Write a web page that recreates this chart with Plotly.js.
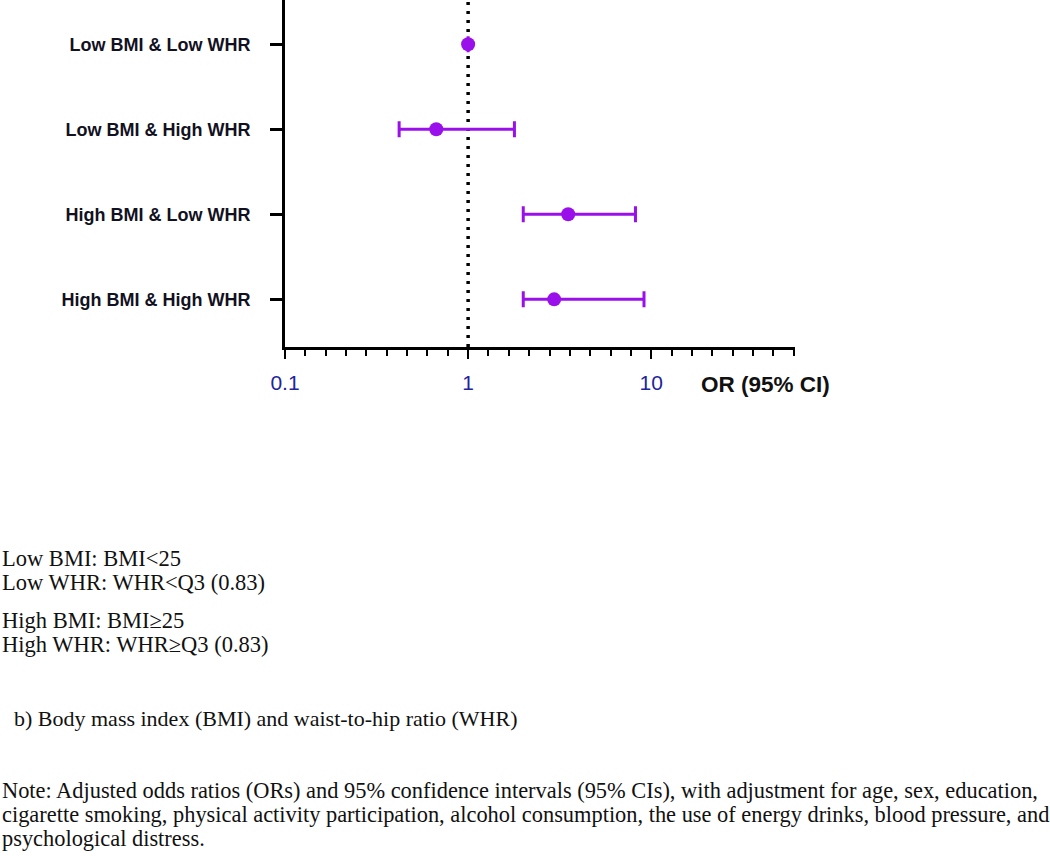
<!DOCTYPE html>
<html>
<head>
<meta charset="utf-8">
<script src="https://cdn.plot.ly/plotly-3.0.1.min.js"></script>
<style>
html,body{margin:0;padding:0;background:#fff;}
#chart{width:1050px;height:856px;}
</style>
</head>
<body>
<div id="chart"></div>
<script>
// ---- data ----
const categories = ["Low BMI & Low WHR", "Low BMI & High WHR", "High BMI & Low WHR", "High BMI & High WHR"];
const orValues = [1.0, 0.67, 3.52, 2.95];
const ciLower = [1.0, 0.42, 2.0, 2.0];
const ciUpper = [1.0, 1.79, 8.2, 9.13];
const refValue = 1;
const xTickVals = [0.1, 1, 10];
const xTickText = ["0.1", "1", "10"];
const xAxisLabel = "OR (95% CI)";
const notes = [
  "Low BMI: BMI<25",
  "Low WHR: WHR<Q3 (0.83)",
  "High BMI: BMI\u226525",
  "High WHR: WHR\u2265Q3 (0.83)"
];
const caption = "b) Body mass index (BMI) and waist-to-hip ratio (WHR)";
const noteLines = [
  "Note: Adjusted odds ratios (ORs) and 95% confidence intervals (95% CIs), with adjustment for age, sex, education,",
  "cigarette smoking, physical activity participation, alcohol consumption, the use of energy drinks, blood pressure, and",
  "psychological distress."
];

// ---- layout helpers ----
const W = 1050, H = 856;
const L = 285, R = 255, T = 0, B = 509;
const pw = W - L - R, ph = H - T - B;
const px = x => (x - L) / pw;
const py = y => 1 - (y - T) / ph;

// evenly spaced minor ticks per decade (as in the original axis)
const minorVals = [];
for (let k = 0; k <= 25; k++) minorVals.push(Math.pow(10, -1 + k / 9));

const purple = "#9a10ea";
const serif = "Liberation Serif, Times New Roman, serif";
const sans = "Liberation Sans, Arial, sans-serif";

const trace = {
  type: "scatter",
  mode: "markers",
  x: orValues,
  y: categories,
  marker: {color: purple, size: 14, symbol: "circle"},
  error_x: {
    type: "data",
    symmetric: false,
    array: orValues.map((v, i) => ciUpper[i] - v),
    arrayminus: orValues.map((v, i) => v - ciLower[i]),
    color: purple,
    thickness: 3,
    width: 8
  },
  hoverinfo: "x+y",
  showlegend: false
};

const annotations = [];
annotations.push({
  text: "<b>" + xAxisLabel + "</b>",
  xref: "paper", yref: "paper",
  x: px(699), y: py(384), xanchor: "left", yanchor: "middle",
  showarrow: false,
  font: {family: sans, size: 22.5, color: "#111"}
});
const noteY = [558, 582, 620, 644];
notes.forEach((t, i) => annotations.push({
  text: t.replace(/</g, "&lt;"),
  xref: "paper", yref: "paper",
  x: px(0), y: py(noteY[i]), xanchor: "left", yanchor: "middle",
  showarrow: false,
  font: {family: serif, size: 22.5, color: "#111"}
}));
annotations.push({
  text: caption,
  xref: "paper", yref: "paper",
  x: px(12), y: py(718), xanchor: "left", yanchor: "middle",
  showarrow: false,
  font: {family: serif, size: 22, color: "#111"}
});
const noteLineY = [790, 814, 838];
noteLines.forEach((t, i) => annotations.push({
  text: t,
  xref: "paper", yref: "paper",
  x: px(0), y: py(noteLineY[i]), xanchor: "left", yanchor: "middle",
  showarrow: false,
  font: {family: serif, size: 22.4, color: "#111"}
}));

const layout = {
  width: W, height: H,
  margin: {l: L, r: R, t: T, b: B},
  paper_bgcolor: "#fff",
  plot_bgcolor: "#fff",
  showlegend: false,
  xaxis: {
    type: "log",
    range: [-1, 1.785],
    tickmode: "array",
    tickvals: xTickVals,
    ticktext: xTickText,
    ticks: "outside",
    ticklen: 9,
    tickwidth: 2,
    tickcolor: "#000",
    minor: {tickmode: "array", tickvals: minorVals, ticks: "outside", ticklen: 6, tickwidth: 2, tickcolor: "#000"},
    showline: true, linecolor: "#000", linewidth: 3,
    showgrid: false, zeroline: false,
    tickfont: {family: sans, size: 21, color: "#23239c"},
    ticklabelstandoff: 6,
    fixedrange: true
  },
  yaxis: {
    type: "category",
    categoryorder: "array",
    categoryarray: categories,
    range: [3.56, -0.52],
    ticks: "outside",
    ticklen: 12,
    tickwidth: 3,
    tickcolor: "#000",
    showline: true, linecolor: "#000", linewidth: 3,
    showgrid: false, zeroline: false,
    tickfont: {family: sans, size: 18, color: "#111122", weight: "bold"},
    ticklabelstandoff: 16,
    fixedrange: true
  },
  shapes: [{
    type: "line", xref: "x", yref: "paper",
    x0: refValue, x1: refValue, y0: 0, y1: 1,
    line: {color: "#000", width: 3.5, dash: "3px,6px"},
    layer: "below"
  }],
  annotations: annotations
};

Plotly.newPlot("chart", [trace], layout, {displayModeBar: false, staticPlot: true});
</script>
</body>
</html>
